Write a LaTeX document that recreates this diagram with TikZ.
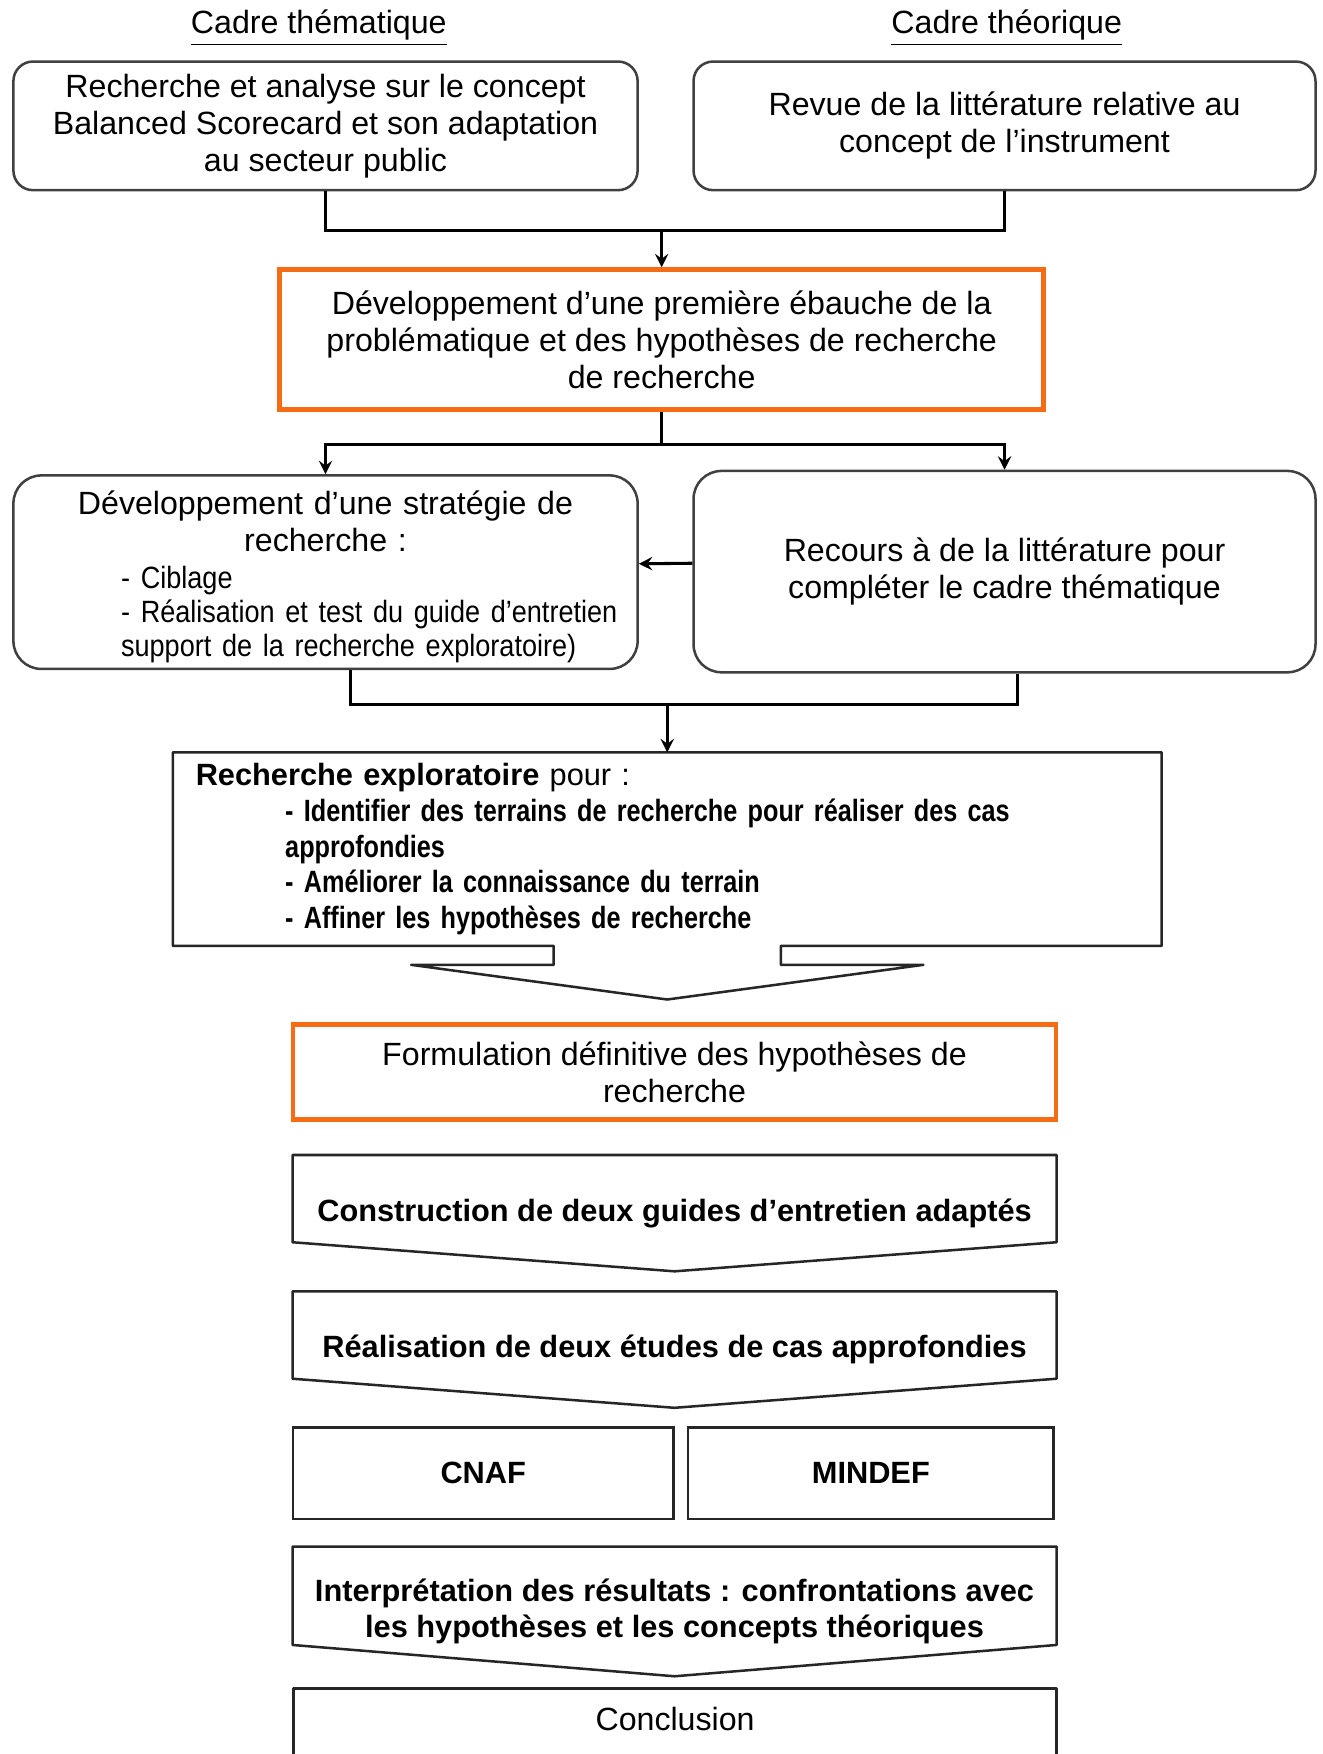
\documentclass[tikz,border=0pt]{standalone}
\usepackage{fontspec}
\setmainfont{Liberation Sans}
\newfontfamily\narrowfont{Liberation Sans}[FakeStretch = 0.82]
\newfontfamily\slimfont{Liberation Sans}[FakeStretch = 0.88]
\usepackage{tikz}
\usetikzlibrary{arrows, positioning, calc}
\definecolor{orangebox}{RGB}{245,108,20}
\newcommand{\boxfont}{\fontsize{11.5}{13.2}\selectfont}
\newcommand{\listfont}{\slimfont\fontsize{11}{12.2}\selectfont}
\newcommand{\narrowbf}{\narrowfont\bfseries}
\tikzstyle{title} = [font = \boxfont]
\tikzstyle{roundbox} = [rectangle, rounded corners = 7pt, draw = black!75, line width = 0.9pt, align = center, font = \boxfont]
\tikzstyle{hypobox} = [rectangle, draw = orangebox, line width = 1.7pt, align = center, font = \boxfont]
\tikzstyle{plainbox} = [rectangle, draw = black!85, line width = 0.9pt, align = center, font = \fontsize{11}{13.2}\selectfont\bfseries]
\tikzstyle{stepbox} = [rectangle, align = center, font = \fontsize{11}{13.2}\selectfont\bfseries]
\tikzstyle{outline} = [draw = black!85, line width = 0.9pt, line join = round]
\tikzstyle{connector} = [line width = 1.1pt]
\tikzstyle{arrow} = [line width = 1.1pt, ->, > = stealth]

\begin{document}
\begin{tikzpicture}[x = 0.4pt, y = -0.4pt]
\useasboundingbox (0,0) rectangle (1182,1568);

%TITLES
\node (tthem) [title] at (285,25) {\underline{Cadre thématique}};
\node (ttheo) [title] at (900,25) {\underline{Cadre théorique}};

%NODES
\node (concept) [roundbox, minimum width = 223.2pt, minimum height = 46pt] at (291,112.5) {Recherche et analyse sur le concept\\ Balanced Scorecard et son adaptation\\ au secteur public};
\node (revue) [roundbox, minimum width = 222.4pt, minimum height = 46pt] at (898,112.5) {Revue de la littérature relative au\\ concept de l’instrument};
\node (ebauche) [hypobox, minimum width = 273.2pt, minimum height = 50pt] at (591.5,303.5) {Développement d’une première ébauche de la\\ problématique et des hypothèses de recherche\\ de recherche};
\node (strategie) [roundbox, rounded corners = 10pt, minimum width = 223.2pt, minimum height = 69.2pt, text width = 211pt, inner ysep = 1pt, align = left] at (291,511.5) {\makebox[211pt]{\rule{0pt}{12pt}Développement d’une stratégie de}\\ \makebox[211pt]{recherche :}\\ \makebox[211pt][l]{\listfont\hspace*{32.4pt}- Ciblage}\\[-1pt] \makebox[211pt][l]{\listfont\hspace*{32.4pt}- Réalisation et test du guide d’entretien}\\[-1pt] \makebox[211pt][l]{\listfont\hspace*{32.4pt}support de la recherche exploratoire)}};
\node (recours) [roundbox, rounded corners = 10pt, minimum width = 222.4pt, minimum height = 72pt] at (898,511) {Recours à de la littérature pour\\ compléter le cadre thématique};
\node (exploratoire) [rectangle, minimum width = 353.2pt, minimum height = 68.8pt, text width = 337.2pt, inner xsep = 8pt, inner ysep = 3pt, align = left, font = \fontsize{11}{12.8}\selectfont] at (596.5,759) {\textbf{Recherche exploratoire} pour :\\ \hspace*{32pt}{\narrowbf - Identifier des terrains de recherche pour réaliser des cas}\\ \hspace*{32pt}{\narrowbf approfondies}\\ \hspace*{32pt}{\narrowbf - Améliorer la connaissance du terrain}\\ \hspace*{32pt}{\narrowbf - Affiner les hypothèses de recherche}};
\node (formulation) [hypobox, minimum width = 272.8pt, minimum height = 34pt] at (603,958.5) {Formulation définitive des hypothèses de\\ recherche};
\node (guides) [stepbox, minimum width = 272.8pt, minimum height = 41.2pt] at (603,1084.5) {Construction de deux guides d’entretien adaptés};
\node (etudes) [stepbox, minimum width = 272.8pt, minimum height = 41.2pt] at (603,1206.5) {Réalisation de deux études de cas approfondies};
\node (cnaf) [plainbox, minimum width = 136pt, minimum height = 32.8pt] at (432,1317) {CNAF};
\node (mindef) [plainbox, minimum width = 130.8pt, minimum height = 32.8pt] at (778.5,1317) {MINDEF};
\node (interpretation) [stepbox, minimum width = 272.8pt, minimum height = 46pt] at (603,1440.5) {Interprétation des résultats : confrontations avec\\ les hypothèses et les concepts théoriques};
\node (conclusion) [rectangle, minimum width = 272.4pt, minimum height = 21.6pt, font = \boxfont] at (603.5,1537) {Conclusion};

%OUTLINES
\draw [outline] ($(exploratoire.south)+(-40.6pt,0)$) -- (exploratoire.south west) -- (exploratoire.north west) -- (exploratoire.north east) -- (exploratoire.south east) -- ($(exploratoire.south)+(40.6pt,0)$) -- ++(0,-6.8pt) -- ($(exploratoire.south)+(91.6pt,-6.8pt)$) -- ($(exploratoire.south)+(0,-19.2pt)$) -- ($(exploratoire.south)+(-91.6pt,-6.8pt)$) -- ($(exploratoire.south)+(-40.6pt,-6.8pt)$) -- cycle;
\draw [outline] (guides.north west) -- (guides.north east) -- ($(guides.south east)+(0,10.4pt)$) -- (guides.south) -- ($(guides.south west)+(0,10.4pt)$) -- cycle;
\draw [outline] (etudes.north west) -- (etudes.north east) -- ($(etudes.south east)+(0,10.4pt)$) -- (etudes.south) -- ($(etudes.south west)+(0,10.4pt)$) -- cycle;
\draw [outline] (interpretation.north west) -- (interpretation.north east) -- ($(interpretation.south east)+(0,11.2pt)$) -- (interpretation.south) -- ($(interpretation.south west)+(0,11.2pt)$) -- cycle;
\draw [outline] (conclusion.north west) rectangle ($(conclusion.south east)+(0,-20pt)$);

%ARROWS
\coordinate (j1) at ($(ebauche.north)+(0,13.2pt)$);
\draw [connector] (concept.south) |- (j1) -| (revue.south);
\draw [arrow] (j1) -- (ebauche.north);
\coordinate (j2) at ($(ebauche.south)+(0,-11.6pt)$);
\draw [connector] (ebauche.south) -- (j2);
\draw [arrow] (j2) -| (strategie.north);
\draw [arrow] (j2) -| (recours.north);
\draw [arrow] ([yshift = 3pt]recours.west) -- ([yshift = 3pt]strategie.east);
\coordinate (j3) at ($(exploratoire.north)+(0,17.2pt)$);
\draw [connector] ([xshift = 8.8pt]strategie.south) |- (j3) -| ([xshift = 4.8pt]recours.south);
\draw [arrow] (j3) -- (exploratoire.north);

\end{tikzpicture}
\end{document}
